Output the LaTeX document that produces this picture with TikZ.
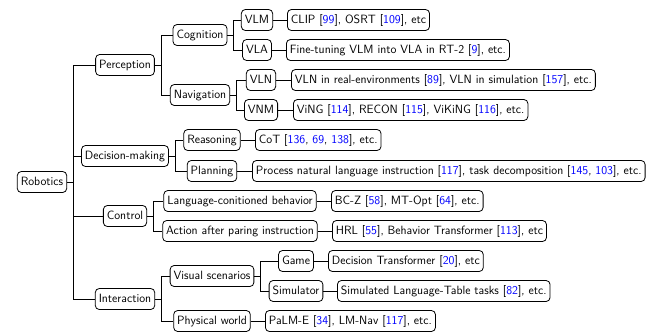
\documentclass[tikz,border=0pt]{standalone}
\usepackage{xcolor}
\newcommand{\refnum}[1]{\textcolor{blue}{#1}}
\begin{document}
\begin{tikzpicture}[x=1pt,y=-1pt,
    box/.style={draw,rounded corners=4pt,line width=0.8pt,minimum height=21pt,
        inner xsep=3.5pt,text height=8.5pt,text depth=2.5pt,
        font=\fontsize{12}{14}\sffamily},
    leaf/.style={box,anchor=west},
    edge/.style={line width=0.8pt}]
    \useasboundingbox (0,0) rectangle (655,333);
    % root and first level
    \node[box] (robotics) at (42,182) {Robotics};
    \node[box] (perception) at (125,65) {Perception};
    \node[box] (decision) at (125,156) {Decision-making};
    \node[box] (control) at (125,216) {Control};
    \node[box] (interaction) at (125,299) {Interaction};
    % perception
    \node[box] (cognition) at (200,35) {Cognition};
    \node[box] (navigation) at (200,95) {Navigation};
    \node[box] (vlm) at (257,20) {VLM};
    \node[box] (vla) at (257,50) {VLA};
    \node[box] (vln) at (261,80) {VLN};
    \node[box] (vnm) at (261,110) {VNM};
    \node[leaf] (clip) at (287,20) {CLIP [\refnum{99}], OSRT [\refnum{109}], etc};
    \node[leaf] (finetune) at (286,50) {Fine-tuning VLM into VLA in RT-2 [\refnum{9}], etc.};
    \node[leaf] (vlnreal) at (291,80) {VLN in real-environments [\refnum{89}], VLN in simulation [\refnum{157}], etc.};
    \node[leaf] (ving) at (293,110) {ViNG [\refnum{114}], RECON [\refnum{115}], ViKiNG [\refnum{116}], etc.};
    % decision-making
    \node[box] (reasoning) at (212,140) {Reasoning};
    \node[box] (planning) at (212,171) {Planning};
    \node[leaf] (cot) at (255,140) {CoT [\refnum{136}, \refnum{69}, \refnum{138}], etc.};
    \node[leaf] (process) at (252,171) {Process natural language instruction [\refnum{117}], task decomposition [\refnum{145}, \refnum{103}], etc.};
    % control
    \node[box] (language) at (240,201) {Language-conitioned behavior};
    \node[box] (action) at (240,231) {Action after paring instruction};
    \node[leaf] (bcz) at (331,201) {BC-Z [\refnum{58}], MT-Opt [\refnum{64}], etc.};
    \node[leaf] (hrl) at (332,231) {HRL [\refnum{55}], Behavior Transformer [\refnum{113}], etc};
    % interaction
    \node[box] (visual) at (212,276) {Visual scenarios};
    \node[box] (physical) at (212,321) {Physical world};
    \node[box] (game) at (296,261) {Game};
    \node[box] (simulator) at (296,291) {Simulator};
    \node[leaf] (dt) at (328,261) {Decision Transformer [\refnum{20}], etc};
    \node[leaf] (simtable) at (337,291) {Simulated Language-Table tasks [\refnum{82}], etc.};
    \node[leaf] (palme) at (265,321) {PaLM-E [\refnum{34}], LM-Nav [\refnum{117}], etc.};
    % connectors
    \draw[edge] (robotics.east) -- ++(6.5,0) |- (perception.west);
    \draw[edge] (robotics.east) -- ++(6.5,0) |- (decision.west);
    \draw[edge] (robotics.east) -- ++(6.5,0) |- (control.west);
    \draw[edge] (robotics.east) -- ++(6.5,0) |- (interaction.west);
    \draw[edge] (perception.east) -- ++(6.5,0) |- (cognition.west);
    \draw[edge] (perception.east) -- ++(6.5,0) |- (navigation.west);
    \draw[edge] (cognition.east) -- ++(6.5,0) |- (vlm.west);
    \draw[edge] (cognition.east) -- ++(6.5,0) |- (vla.west);
    \draw[edge] (navigation.east) -- ++(6.5,0) |- (vln.west);
    \draw[edge] (navigation.east) -- ++(6.5,0) |- (vnm.west);
    \draw[edge] (vlm) -- (clip);
    \draw[edge] (vla) -- (finetune);
    \draw[edge] (vln) -- (vlnreal);
    \draw[edge] (vnm) -- (ving);
    \draw[edge] (decision.east) -- ++(6.5,0) |- (reasoning.west);
    \draw[edge] (decision.east) -- ++(6.5,0) |- (planning.west);
    \draw[edge] (reasoning) -- (cot);
    \draw[edge] (planning) -- (process);
    \draw[edge] (control.east) -- ++(6.5,0) |- (language.west);
    \draw[edge] (control.east) -- ++(6.5,0) |- (action.west);
    \draw[edge] (language) -- (bcz);
    \draw[edge] (action) -- (hrl);
    \draw[edge] (interaction.east) -- ++(6.5,0) |- (visual.west);
    \draw[edge] (interaction.east) -- ++(6.5,0) |- (physical.west);
    \draw[edge] (visual.east) -- ++(6.5,0) |- (game.west);
    \draw[edge] (visual.east) -- ++(6.5,0) |- (simulator.west);
    \draw[edge] (game) -- (dt);
    \draw[edge] (simulator) -- (simtable);
    \draw[edge] (physical) -- (palme);
\end{tikzpicture}
\end{document}
